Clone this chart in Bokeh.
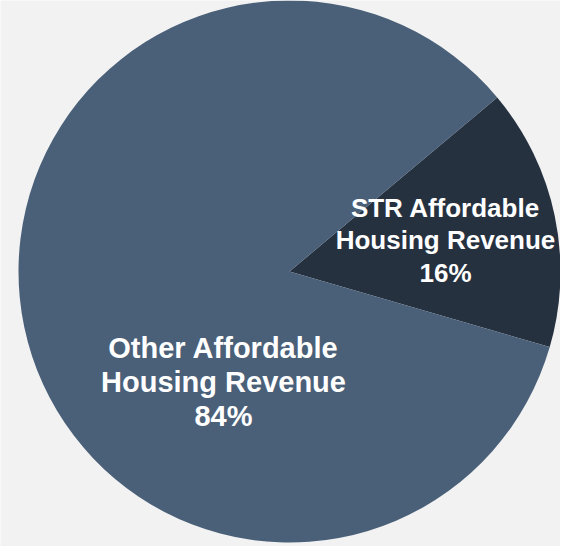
import math
import re
from bokeh.plotting import figure
from bokeh.models import Range1d, ColumnDataSource
from bokeh.core.properties import value
from bokeh.embed import file_html
from bokeh.resources import INLINE

# ---- data ----
categories = ["STR Affordable Housing Revenue", "Other Affordable Housing Revenue"]
shares = [15.6, 84.4]
pct_labels = ["16%", "84%"]
colors = ["#263140", "#4a6079"]

# ---- layout constants (pixels) ----
W, H = 560, 546
cx, cy, R = 289, 275, 271
start_deg = -16.2

p = figure(width=W, height=H, x_range=Range1d(0, W), y_range=Range1d(0, H),
           x_axis_type=None, y_axis_type=None, toolbar_location=None,
           output_backend="svg", min_border=0)
p.grid.visible = False
p.outline_line_color = None
p.background_fill_color = "#f2f2f2"
p.border_fill_color = "#f2f2f2"

total = sum(shares)
starts, ends = [], []
a = math.radians(start_deg)
for s in shares:
    e = a + 2 * math.pi * s / total
    starts.append(a)
    ends.append(e)
    a = e

src = ColumnDataSource(dict(start=starts, end=ends, color=colors))
p.wedge(x=cx, y=cy, radius=R, start_angle="start", end_angle="end",
        fill_color="color", line_color=None, source=src)

# label anchors (first line centre), font size, line height
anchors = [(445, 339, 26, 32.5), (223, 199, 29, 34)]
xs, ys, txts, sizes = [], [], [], []
for cat, pct, (ax, ay, fs, lh) in zip(categories, pct_labels, anchors):
    words = cat.split(" ")
    lines = [" ".join(words[:2]), " ".join(words[2:]), pct]
    for i, ln in enumerate(lines):
        xs.append(ax)
        ys.append(ay - i * lh)
        txts.append(ln)
        sizes.append(f"{fs}px")

tsrc = ColumnDataSource(dict(x=xs, y=ys, text=txts, size=sizes))
p.text(x="x", y="y", text="text", text_font_size="size", source=tsrc,
       text_font=value("Liberation Sans"), text_font_style="bold",
       text_color="white", text_align="center", text_baseline="middle")

html = file_html(p, INLINE)
html = re.sub(r"<body([^>]*)>", r'<body\1 style="background-color:#f2f2f2;">', html, count=1)
open("out.html", "w").write(html)
